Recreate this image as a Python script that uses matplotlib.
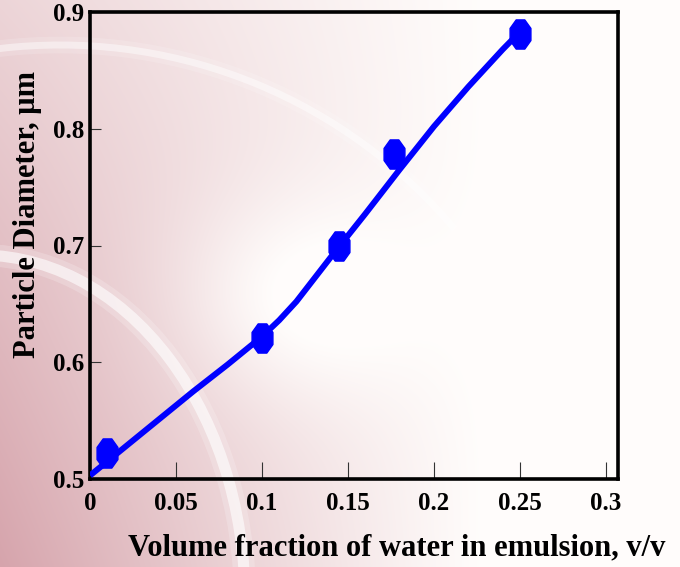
import numpy as np
import matplotlib
matplotlib.use("Agg")
import matplotlib.pyplot as plt
from matplotlib.patches import Arc
from matplotlib.path import Path
from matplotlib.transforms import Affine2D

# measured points
water_frac = [0.01, 0.10, 0.145, 0.177, 0.25]
diameter = [0.522, 0.621, 0.700, 0.778, 0.881]

# fitted curve
fit_x = [0.0, 0.02, 0.04, 0.06, 0.08, 0.09, 0.10, 0.11, 0.12, 0.13, 0.14,
         0.16, 0.18, 0.20, 0.22, 0.24, 0.25]
fit_y = [0.503, 0.527, 0.551, 0.575, 0.598, 0.610, 0.622, 0.636, 0.652, 0.671, 0.690,
         0.727, 0.765, 0.802, 0.836, 0.868, 0.883]

xticks = [0, 0.05, 0.1, 0.15, 0.2, 0.25, 0.3]
xtick_labels = ["0", "0.05", "0.1", "0.15", "0.2", "0.25", "0.3"]
yticks = [0.5, 0.6, 0.7, 0.8, 0.9]
ytick_labels = ["0.5", "0.6", "0.7", "0.8", "0.9"]

W, H = 680, 567
plt.rcParams["font.family"] = ["Liberation Serif", "DejaVu Serif"]
plt.rcParams["font.weight"] = "bold"

fig = plt.figure(figsize=(W / 100, H / 100), dpi=100)

# background: pink wash from the left fading to white on the right
bg = fig.add_axes([0, 0, 1, 1])
yy, xx = np.mgrid[0:H, 0:W]
w = np.clip(1 - xx / 480.0, 0, 1) ** 1.1 * (0.45 + 0.55 * yy / H)
glow = np.exp(-(((xx - 290) / 120.0) ** 2 + ((yy - 300) / 100.0) ** 2))
w = np.clip(w - 0.3 * glow, 0, 1)
pink = np.array([214, 164, 172]) / 255.0
img = (1 - w[..., None]) * np.array([1.0, 0.99, 0.985]) + w[..., None] * pink
bg.imshow(img, extent=[0, W, H, 0], aspect="auto", interpolation="bilinear")
# faint white rings (y axis is inverted, so angles are negative to go upward)
for lw, a in [(12, 0.15), (5, 0.45)]:
    bg.add_patch(Arc((60, 560), 1030, 1030, theta1=-150, theta2=-40, color="white", lw=lw, alpha=a))
for lw, a in [(16, 0.2), (8, 0.6)]:
    bg.add_patch(Arc((-20, 600), 530, 690, theta1=-92, theta2=5, color="white", lw=lw, alpha=a))
bg.set_xlim(0, W)
bg.set_ylim(H, 0)
bg.axis("off")

ax = fig.add_axes([90 / W, 1 - 479 / H, 528 / W, 467 / H])
ax.patch.set_alpha(0)

octagon = Path.unit_regular_polygon(8)
octagon = octagon.transformed(Affine2D().rotate_deg(22.5).scale(1.0, 1.4))

ax.plot(fit_x, fit_y, color="#0000ff", lw=4.3, solid_capstyle="butt",
        solid_joinstyle="round", zorder=3)
ax.plot(water_frac, diameter, ls="none", marker=octagon, ms=21,
        color="#0000ff", mec="#0000ff", zorder=4)

ax.set_xlim(0, 0.307)
ax.set_ylim(0.5, 0.9)
ax.set_xticks(xticks)
ax.set_xticklabels(xtick_labels)
ax.set_yticks(yticks)
ax.set_yticklabels(ytick_labels)
ax.tick_params(axis="x", direction="in", length=12, width=0.8, color="#333333",
               pad=9, labelsize=18)
ax.tick_params(axis="y", direction="in", length=8, width=0.8, color="#333333",
               pad=4, labelsize=18)
for lab in ax.get_xticklabels() + ax.get_yticklabels():
    lab.set_fontweight("bold")
for sp in ax.spines.values():
    sp.set_linewidth(2.6)
    sp.set_color("black")

fig.text(665 / W, 1 - 548 / H, "Volume fraction of water in emulsion, v/v",
         ha="right", va="center", fontsize=22, fontweight="bold")
fig.text(28 / W, 1 - 215 / H, "Particle Diameter, \u03bcm", rotation=90,
         ha="center", va="center", fontsize=22, fontweight="bold")

fig.savefig("out.png", dpi=100)
